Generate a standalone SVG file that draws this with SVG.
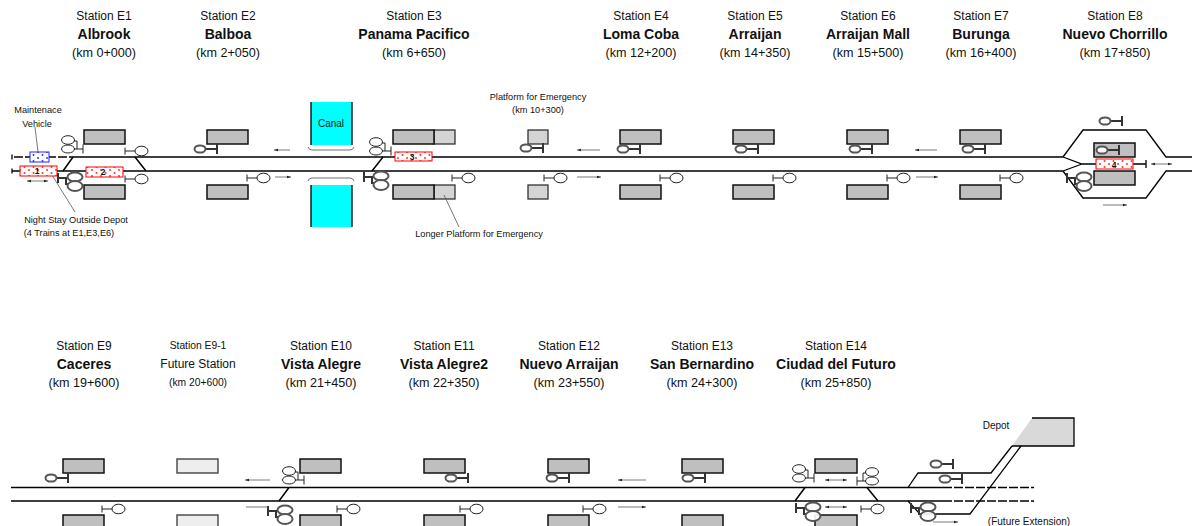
<svg xmlns="http://www.w3.org/2000/svg" width="1192" height="526" viewBox="0 0 1192 526">
<style>
text{font-family:"Liberation Sans",Arial,sans-serif;font-size:12px;text-anchor:middle;fill:#111}
.b{font-size:14px;font-weight:bold}
.k{font-size:12.600px}
.e{font-size:10.300px}
.fs{font-size:12px}
.xs{font-size:9.200px}
.m{font-size:9px}
.dl{font-size:10px}
.t{stroke:#000;stroke-width:1.300;fill:none}
.p{fill:#bfbfbf;stroke:#111;stroke-width:1.500}
.l{fill:#d4d4d4;stroke:#333;stroke-width:1.300}
.f{fill:#eee;stroke:#444;stroke-width:1.400}
.sw{stroke:#000;stroke-width:1.500;fill:none}
.w{stroke:#333;stroke-width:.7;fill:none}
.a{stroke:#555;stroke-width:.8;fill:none}
.n{font-size:8.500px;font-weight:bold}
.sg{stroke:#222;stroke-width:1;fill:#fff}
.sl{stroke:#222;stroke-width:1;fill:none}
.sh{stroke:#555;stroke-width:2;fill:#fff;fill-opacity:.9}
.bk{stroke:#333;stroke-width:2;fill:none}
</style>
<defs>
<pattern id="rd" width="9" height="6" patternUnits="userSpaceOnUse"><rect width="9" height="6" fill="#fff"/><circle cx="2" cy="2" r="1" fill="#f33"/><circle cx="6.500" cy="5" r="1" fill="#f33"/></pattern>
<pattern id="bd" width="9" height="6" patternUnits="userSpaceOnUse"><rect width="9" height="6" fill="#fff"/><circle cx="2" cy="2" r=".9" fill="#22f"/><circle cx="6.500" cy="5" r=".9" fill="#22f"/></pattern>
<marker id="ah" markerWidth="6" markerHeight="5" refX="5" refY="2.500" orient="auto-start-reverse"><path d="M0,1L5,2.500L0,4z" fill="#222"/></marker>
<g id="sigR"><path d="M0,-3.500V3.500M0,0H10" class="sl"/><ellipse cx="16.500" cy="0" rx="6.500" ry="4.800" class="sg"/></g>
<g id="sigL"><path d="M23,-5V5M23,0H12" class="bk"/><ellipse cx="6" cy="0" rx="5.500" ry="3.600" class="sh"/></g>
<g id="dbl"><ellipse cx="-15" cy="-9" rx="6.500" ry="4.300" class="sg"/><ellipse cx="-15" cy="0" rx="6.500" ry="4" class="sg"/><path d="M-9,-8H-6V0M-9,0H0M0,-4.500V4.500" class="sl"/></g>
<g id="dblH"><path d="M0,-5V5M0,0H8V6H10" class="bk"/><ellipse cx="17" cy="-1" rx="7.500" ry="4.500" class="sh"/><ellipse cx="17" cy="8" rx="7.500" ry="5" class="sh"/></g>
</defs>

<g id="labels-top">
<g id="E1"><text x="104" y="20">Station E1</text><text class="b" x="104" y="39">Albrook</text><text class="k" x="104" y="57">(km 0+000)</text></g>
<g id="E2"><text x="228" y="20">Station E2</text><text class="b" x="228" y="39">Balboa</text><text class="k" x="228" y="57">(km 2+050)</text></g>
<g id="E3"><text x="414" y="20">Station E3</text><text class="b" x="414" y="39">Panama Pacifico</text><text class="k" x="414" y="57">(km 6+650)</text></g>
<g id="E4"><text x="641" y="20">Station E4</text><text class="b" x="641" y="39">Loma Coba</text><text class="k" x="641" y="57">(km 12+200)</text></g>
<g id="E5"><text x="755" y="20">Station E5</text><text class="b" x="755" y="39">Arraijan</text><text class="k" x="755" y="57">(km 14+350)</text></g>
<g id="E6"><text x="868" y="20">Station E6</text><text class="b" x="868" y="39">Arraijan Mall</text><text class="k" x="868" y="57">(km 15+500)</text></g>
<g id="E7"><text x="981" y="20">Station E7</text><text class="b" x="981" y="39">Burunga</text><text class="k" x="981" y="57">(km 16+400)</text></g>
<g id="E8"><text x="1115" y="20">Station E8</text><text class="b" x="1115" y="39">Nuevo Chorrillo</text><text class="k" x="1115" y="57">(km 17+850)</text></g>
</g>
<g id="labels-bottom">
<g id="E9"><text x="84" y="350">Station E9</text><text class="b" x="84" y="369">Caceres</text><text class="k" x="84" y="387">(km 19+600)</text></g>
<g id="E9-1"><text class="e" x="198" y="349">Station E9-1</text><text x="198" y="368">Future Station</text><text class="e" x="198" y="386">(km 20+600)</text></g>
<g id="E10"><text x="321" y="350">Station E10</text><text class="b" x="321" y="369">Vista Alegre</text><text class="k" x="321" y="387">(km 21+450)</text></g>
<g id="E11"><text x="444" y="350">Station E11</text><text class="b" x="444" y="369">Vista Alegre2</text><text class="k" x="444" y="387">(km 22+350)</text></g>
<g id="E12"><text x="569" y="350">Station E12</text><text class="b" x="569" y="369">Nuevo Arraijan</text><text class="k" x="569" y="387">(km 23+550)</text></g>
<g id="E13"><text x="702" y="350">Station E13</text><text class="b" x="702" y="369">San Bernardino</text><text class="k" x="702" y="387">(km 24+300)</text></g>
<g id="E14"><text x="836" y="350">Station E14</text><text class="b" x="836" y="369">Ciudad del Futuro</text><text class="k" x="836" y="387">(km 25+850)</text></g>
</g>

<g id="canal">
<rect fill="#00ffff" x="311" y="102" width="41" height="43"/><path class="t" d="M311,102V145M352,102V145"/><text x="331" y="127" class="dl">Canal</text>
<rect fill="#00ffff" x="311" y="185" width="41" height="42"/><path class="t" d="M311,185V227M352,185V227"/>
<path class="w" d="M308,147q1,3 4,3h38q3,0 4,-3M308,181q1,-3 4,-3h38q3,0 4,3"/>
</g>

<g id="platforms">
<rect class="p" x="84" y="130" width="41" height="14"/><rect class="p" x="84" y="185" width="41" height="14"/>
<rect class="p" x="207" y="130" width="41" height="14"/><rect class="p" x="207" y="185" width="41" height="14"/>
<rect class="l" x="434" y="130" width="21" height="14"/><rect class="l" x="434" y="185" width="21" height="14"/>
<rect class="p" x="393" y="130" width="41" height="14"/><rect class="p" x="393" y="185" width="41" height="14"/>
<rect class="l" x="528" y="130" width="20" height="14"/><rect class="l" x="528" y="185" width="20" height="14"/>
<rect class="p" x="620" y="130" width="41" height="14"/><rect class="p" x="620" y="185" width="41" height="14"/>
<rect class="p" x="733" y="130" width="41" height="14"/><rect class="p" x="733" y="185" width="41" height="14"/>
<rect class="p" x="847" y="130" width="41" height="14"/><rect class="p" x="847" y="185" width="41" height="14"/>
<rect class="p" x="960" y="130" width="41" height="14"/><rect class="p" x="960" y="185" width="41" height="14"/>
<rect class="p" x="1094" y="143" width="41" height="14"/><rect class="p" x="1094" y="171" width="41" height="14"/>
<rect class="p" x="63" y="459" width="41" height="14"/><rect class="p" x="63" y="515" width="41" height="14"/>
<rect class="f" x="177" y="459" width="41" height="14"/><rect class="f" x="177" y="515" width="41" height="14"/>
<rect class="p" x="300" y="459" width="41" height="14"/><rect class="p" x="300" y="515" width="41" height="14"/>
<rect class="p" x="424" y="459" width="41" height="14"/><rect class="p" x="424" y="515" width="41" height="14"/>
<rect class="p" x="548" y="459" width="41" height="14"/><rect class="p" x="548" y="515" width="41" height="14"/>
<rect class="p" x="682" y="459" width="41" height="14"/><rect class="p" x="682" y="515" width="41" height="14"/>
<rect class="p" x="815" y="459" width="42" height="14"/><rect class="p" x="815" y="515" width="42" height="14"/>
<path d="M1012,446L1032,418H1074V446z" fill="#d9d9d9"/><path d="M1032,418H1074V446H1012" class="t"/>
</g>

<g id="connectors">
<path class="t" d="M72,157H1063M12,171H1063"/>
<path class="t" stroke-dasharray="9 2" d="M14,157H72"/>
<path class="t" d="M12,154.500V159.500M12,168.500V173.500"/>
<path class="sw" d="M73,157L63,171M135,157L146,171M383,157L372,171"/>
<path class="t" d="M1063,157L1083,130H1146L1166,157H1192M1063,171L1083,198H1146L1166,171H1192M1063,157L1082,164H1146M1063,171L1082,164M1146,160V168"/>
<path class="t" d="M11,487.500H943M11,501H943"/>
<path class="t" stroke-dasharray="9 2" d="M943,487.500H1034M943,501H1034"/>
<path class="sw" d="M289,487.500L279,501M805,487.500L795,501M867,487.500L878,501"/>
<path class="t" d="M908,487.500L918,473H991L1012,446M908,501L920,514H970L1021,446"/>
<path class="a" d="M35,127L38,152M52,175L75,212M444,195L459,227"/>
</g>

<g id="trains">
<rect x="30" y="152" width="19" height="10" fill="url(#bd)" stroke="#22f" stroke-width="1"/>
<rect x="20" y="166" width="37" height="10" fill="url(#rd)" stroke="#f00" stroke-width="1"/><text class="n" x="37" y="174">1</text>
<rect x="86" y="167" width="37" height="10" fill="url(#rd)" stroke="#f00" stroke-width="1"/><text class="n" x="103" y="175">2</text>
<rect x="395" y="152" width="37" height="9" fill="url(#rd)" stroke="#f00" stroke-width="1"/><text class="n" x="412" y="160">3</text>
<rect x="1096" y="159" width="37" height="10" fill="url(#rd)" stroke="#f00" stroke-width="1"/><text class="n" x="1114" y="168">4</text>
</g>

<g id="signals">
<use href="#dbl" x="83" y="149"/><use href="#sigR" x="125" y="151"/><use href="#dblH" x="58" y="178"/><use href="#sigR" x="125" y="179"/>
<use href="#sigL" x="194" y="149"/><use href="#sigR" x="247" y="178"/>
<use href="#dbl" x="391" y="151"/><use href="#dblH" x="364" y="177"/><use href="#sigR" x="452" y="178"/>
<use href="#sigL" x="520" y="148"/><use href="#sigR" x="544" y="178"/>
<use href="#sigL" x="617" y="149"/><use href="#sigR" x="660" y="178"/>
<use href="#sigL" x="735" y="149"/><use href="#sigR" x="773" y="178"/>
<use href="#sigL" x="849" y="149"/><use href="#sigR" x="887" y="178"/>
<use href="#sigL" x="962" y="149"/><use href="#sigR" x="1000" y="178"/>
<use href="#sigL" x="1099" y="121"/><use href="#sigL" x="1096" y="150"/><use href="#dblH" x="1067" y="178"/>
<use href="#sigL" x="45" y="478"/><use href="#sigR" x="102" y="509"/>
<use href="#dbl" x="304" y="480"/><use href="#dblH" x="268" y="511"/><use href="#sigR" x="337" y="509"/>
<use href="#sigL" x="445" y="478"/><use href="#sigR" x="460" y="509"/>
<use href="#sigL" x="546" y="478"/><use href="#sigR" x="583" y="509"/>
<use href="#sigL" x="682" y="478"/>
<use href="#dbl" x="814" y="478"/><use href="#dblH" x="796" y="508"/><use href="#sigR" x="861" y="509"/>
<use href="#dbl" transform="translate(857,481) scale(-1,1)"/>
<use href="#sigL" x="930" y="464"/><use href="#sigL" x="939" y="479"/><use href="#dblH" x="911" y="508"/>
</g>

<g id="arrows">
<path class="a" marker-start="url(#ah)" marker-end="url(#ah)" d="M27,181H48"/>
<path class="a" marker-end="url(#ah)" d="M290,150H274"/><path class="a" marker-end="url(#ah)" d="M275,177H291"/>
<path class="a" marker-end="url(#ah)" d="M600,150H577"/><path class="a" marker-end="url(#ah)" d="M577,177H601"/>
<path class="a" marker-end="url(#ah)" d="M937,150H915"/><path class="a" marker-end="url(#ah)" d="M916,177H938"/>
<path class="a" marker-start="url(#ah)" marker-end="url(#ah)" d="M1151,164H1172"/><path class="a" marker-end="url(#ah)" d="M1103,205H1127"/>
<path class="a" marker-end="url(#ah)" d="M270,480H245"/><path class="a" d="M246,507H268"/>
<path class="a" marker-end="url(#ah)" d="M646,480H618"/><path class="a" marker-end="url(#ah)" d="M618,507H646"/>
<path class="a" marker-start="url(#ah)" marker-end="url(#ah)" d="M825,480H847"/><path class="a" marker-start="url(#ah)" marker-end="url(#ah)" d="M825,507H847"/>
<path class="a" marker-end="url(#ah)" d="M933,522H958"/>
</g>

<g id="annotations">
<text class="xs" x="38" y="113">Maintenace</text><text class="xs" x="37" y="127">Vehicle</text>
<text class="xs" x="76" y="223">Night Stay Outside Depot</text><text class="xs" x="69" y="236">(4 Trains at E1,E3,E6)</text>
<text class="xs" x="538" y="100">Platform for Emergency</text><text class="xs" x="538" y="113">(km 10+300)</text>
<text class="xs" x="479" y="237">Longer Platform for Emergency</text>
<text class="dl" x="996" y="429">Depot</text><text class="dl" x="1029" y="525">(Future Extension)</text>
</g>
</svg>
